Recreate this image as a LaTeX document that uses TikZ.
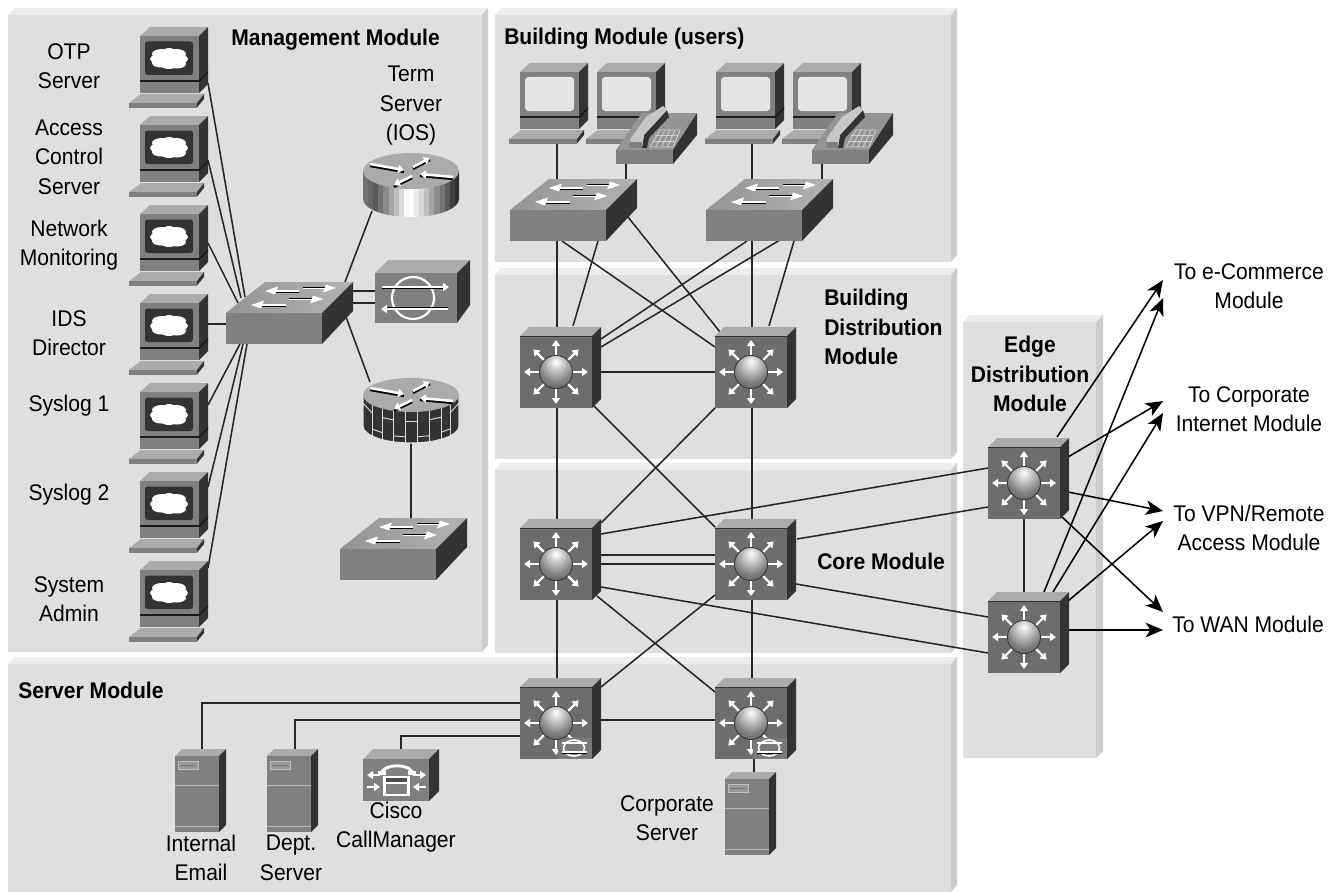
\documentclass[tikz,border=0pt]{standalone}
\usepackage{fontspec}
\setmainfont[FakeStretch=0.93]{Liberation Sans}
\usetikzlibrary{calc,arrows.meta}
\definecolor{gtop}{HTML}{ABABAB}
\definecolor{gfront}{HTML}{808080}
\definecolor{gside}{HTML}{333333}
\definecolor{lfront}{HTML}{6D6D6D}
\definecolor{ptop}{HTML}{EDEDED}
\definecolor{pfront}{HTML}{DFDFDF}
\definecolor{pside}{HTML}{CDCDCD}
\pgfdeclareradialshading{ballsh}{\pgfpoint{0bp}{16bp}}{rgb(0bp)=(1,1,1);rgb(8bp)=(.85,.85,.85);rgb(26bp)=(.5,.5,.5);rgb(50bp)=(.25,.25,.25);rgb(80bp)=(.12,.12,.12)}
\tikzset{
  conn/.style={draw=black!85,line width=1.15pt},
  outarrow/.style={draw=black,line width=1.15pt,-{Stealth[length=13pt,width=11pt,inset=3.5pt]}},
  devbox/.style={inner sep=0pt,outer sep=0pt,anchor=north west,draw=none,fill=none},
  lab/.style={align=center,font=\fontsize{17}{22.1}\selectfont,inner sep=0pt},
  blab/.style={lab,font=\fontsize{17}{22.1}\selectfont\bfseries},
  tipw/.style={-{Triangle[length=4.5pt,width=6pt,fill=white]}},
}
% panel: x0, y0 front top, x1, y1 bottom, bevel
\newcommand\panelbox[5]{%
  \fill[pfront] (#1,#2) rectangle (#3,#4);
  \fill[ptop] (#1,#2) -- (#1+#5,#2-7) -- (#3+#5,#2-7) -- (#3,#2) -- cycle;
  \fill[pside] (#3,#2) -- (#3+#5,#2-7) -- (#3+#5,#4-7) -- (#3,#4) -- cycle;
}
% device declaration: name, origin x,y, box offset x,y, box w,h
\newcommand\dev[7]{%
  \coordinate (#1-o) at (#2,#3);
  \node[devbox,minimum width=#6*0.75pt,minimum height=#7*0.75pt] (#1) at (#2+#4,#3+#5) {};
}
\newcommand\lnk[6]{\draw[conn] ($(#1-o)+(#2,#3)$) -- ($(#4-o)+(#5,#6)$);}
\newcommand\cloudshape{%
  \fill[white] (29,23) ellipse [x radius=19,y radius=6.5];
  \fill[white] (22,18) ellipse [x radius=10,y radius=5];
  \fill[white] (36,18) ellipse [x radius=10,y radius=5];
  \fill[white] (21,27) ellipse [x radius=9,y radius=4.5];
  \fill[white] (37,28) ellipse [x radius=9,y radius=4.5];
  \fill[white] (29,17) ellipse [x radius=7,y radius=5];
  \fill[white] (29,29) ellipse [x radius=8,y radius=4];
}
\newcommand\pcbody{%
  \fill[gtop] (0,0) -- (10,-9) -- (68,-9) -- (59,0) -- cycle;
  \fill[gfront] (0,0) rectangle (59,44);
  \fill[gside] (59,0) -- (68,-9) -- (68,36) -- (59,45) -- cycle;
  \fill[gfront] (0,45) rectangle (59,57);
  \fill[gside] (59,45) -- (68,36) -- (68,48) -- (59,57) -- cycle;
  \fill[black!90] (0,44) rectangle (59,46);
  \fill[black!90] (59,44) -- (68,35) -- (68,37) -- (59,46) -- cycle;
  \fill[gtop] (1,58) -- (64,58) -- (57,67) -- (-11,67) -- cycle;
  \fill[gfront] (-11,67) rectangle (57,71.5);
  \fill[gside] (57,67) -- (64,58) -- (64,63) -- (57,71.5) -- cycle;
}
\newcommand\pcdark[1]{\begin{scope}[shift={(#1-o)}]
  \pcbody
  \fill[gside,rounded corners=2pt] (5,5.5) rectangle (53,39);
  \cloudshape
\end{scope}}
\newcommand\pclight[1]{\begin{scope}[shift={(#1-o)}]
  \pcbody
  \fill[black!10,rounded corners=2.5pt] (5,5) rectangle (54,39);
\end{scope}}
\newcommand\phoneic[1]{\begin{scope}[shift={(#1-o)}]
  \fill[black!42] (0,0) -- (26,-37) -- (81,-37) -- (57,0) -- cycle;
  \fill[gfront] (0,0) rectangle (57,14);
  \fill[gside] (57,0) -- (81,-37) -- (81,-15) -- (57,14) -- cycle;
  \fill[gside] (26,-2) -- (28,-15) -- (51,-40) -- (53,-33) -- (33,-12) -- (31,-2) -- cycle;
  \fill[black!22] (15,-12) -- (30,-33) -- (47,-44) -- (51,-40) -- (28,-15) -- (26,-2) -- (14,-2) -- cycle;
  \fill[gfront] (14,-2) -- (26,-2) -- (26,-8) -- (14,-8) -- cycle;
  \draw[black!18,line width=.6pt] (34,-3) -- (57,-3) -- (64,-20) -- (44,-20) -- cycle;
  \draw[black!18,line width=.6pt] (36.5,-8.7) -- (59.3,-8.7) (39.2,-14.3) -- (61.7,-14.3);
  \draw[black!18,line width=.6pt] (39.7,-3) -- (49,-20) (45.5,-3) -- (54,-20) (51.2,-3) -- (59,-20);
\end{scope}}
\newcommand\wsl[3]{%
  \fill[white] (#1+10,#2-1.2) rectangle (#3,#2+.5);
  \draw[black,line width=.4pt] (#1+10,#2+.9) -- (#3,#2+.9);
  \fill[white] (#1,#2) -- (#1+13,#2-4.5) -- (#1+10,#2+3.5) -- cycle;
}
\newcommand\wsr[3]{%
  \fill[white] (#1-10,#2+1.2) rectangle (#3,#2-.5);
  \draw[black,line width=.4pt] (#1-10,#2-.9) -- (#3,#2-.9);
  \fill[white] (#1,#2) -- (#1-13,#2+4.5) -- (#1-10,#2-3.5) -- cycle;
}
\newcommand\wgswitch[1]{\begin{scope}[shift={(#1-o)}]
  \shade[left color=black!42,right color=black!30] (0,0) -- (39,-31) -- (127,-31) -- (96,0) -- cycle;
  \fill[gfront] (0,0) rectangle (96,31);
  \fill[gside] (96,0) -- (127,-31) -- (127,-2) -- (96,31) -- cycle;
  \wsl{39}{-22}{73}
  \wsr{110}{-25}{77}
  \wsl{25}{-8}{60}
  \wsr{97}{-14}{63}
\end{scope}}
\newcommand\lthreebody{%
  \fill[gtop] (0,0) -- (9,-9) -- (81,-9) -- (72,0) -- cycle;
  \fill[lfront] (0,0) rectangle (72,72);
  \fill[gside] (72,0) -- (81,-9) -- (81,63) -- (72,72) -- cycle;
  \draw[gside,line width=.75pt] (0,0) -- (72,0);
  \foreach \a in {0,45,...,315} {
    \draw[white,line width=1.6pt,tipw,draw=white] ({36+17*cos(\a)},{36+17*sin(\a)}) -- ({36+32*cos(\a)},{36+32*sin(\a)});
  }
}
\newcommand\lthreeball{%
  \shade[shading=ballsh] (36,36) circle [radius=16.5];
  \draw[black!80,line width=.6pt] (36,36) circle [radius=16.5];
}
\newcommand\lthree[1]{\begin{scope}[shift={(#1-o)}]
  \lthreebody
  \lthreeball
\end{scope}}
\newcommand\lthreering[1]{\begin{scope}[shift={(#1-o)}]
  \lthreebody
  \fill[black!52] (38,51) rectangle (72,71.5);
  \lthreeball
  \draw[white,line width=1.2pt] (54,61) ellipse [x radius=10.5,y radius=8];
  \draw[black,line width=.4pt] (42,55) -- (67,55) (42,66) -- (67,66);
  \draw[white,line width=.9pt] (42,56) -- (67,56) (42,65) -- (67,65);
\end{scope}}
\newcommand\rarrows{%
  \foreach \xa/\ya/\xb/\yb in {-41/-7/-7/-1,2/-4/19/-13,42/6/9/3,1/5/-17/14} {
    \draw[black,line width=2pt] (\xa,\ya+1.8) -- (\xb,\yb+1.8);
    \draw[white,line width=1.9pt,tipw] (\xa,\ya) -- (\xb,\yb);
  }
}
\newcommand\routerT[1]{\begin{scope}[shift={(#1-o)}]
  \begin{scope}
    \clip (-48,0) -- (-48,28) .. controls (-48,38) and (-26.5,46) .. (0,46) .. controls (26.5,46) and (48,38) .. (48,28) -- (48,0) -- cycle;
    \foreach \i/\g in {0/55,1/60,2/65,3/55,4/45,5/35,6/25,7/15,8/3,9/0,10/8,11/15,12/25,13/35,14/45,15/55,16/65,17/75,18/82} {
      \fill[black!\g] ({-48+5.1*\i},-3) rectangle ({-48+5.1*(\i+1)+.3},50);
    }
  \end{scope}
  \fill[gtop] (0,0) ellipse [x radius=48,y radius=18];
  \rarrows
\end{scope}}
\newcommand\routerF[1]{\begin{scope}[shift={(#1-o)}]
  \fill[gside] (-48,0) -- (-48,31) .. controls (-48,40.4) and (-26.5,48) .. (0,48) .. controls (26.5,48) and (48,40.4) .. (48,31) -- (48,0) -- cycle;
  \foreach \xa in {-39,-29,-18,-6,6,18,30,39} {
    \draw[black!15,line width=.7pt] (\xa,{17*sqrt(1-(\xa/48)^2)}) -- (\xa,{31+17*sqrt(1-(\xa/48)^2)});
  }
  \foreach \xa/\xb/\t in {-48/-39/8,-39/-29/24,-29/-18/9,-18/-6/25,-6/6/10,6/18/25,18/30/9,30/39/24,39/48/8} {
    \draw[black!15,line width=.7pt] (\xa,{\t+17*sqrt(1-(\xa/48)^2)}) -- (\xb,{\t+17*sqrt(1-(\xb/48)^2)});
  }
  \draw[black!12,line width=.8pt] (-48,0) -- (-48,31) .. controls (-48,40.4) and (-26.5,48) .. (0,48) .. controls (26.5,48) and (48,40.4) .. (48,31) -- (48,0);
  \fill[gtop] (0,0) ellipse [x radius=48,y radius=17];
  \rarrows
\end{scope}}
\newcommand\idsbox[1]{\begin{scope}[shift={(#1-o)}]
  \fill[gtop] (0,0) -- (13,-13) -- (95,-13) -- (82,0) -- cycle;
  \fill[gfront] (0,0) rectangle (82,50);
  \fill[gside] (82,0) -- (95,-13) -- (95,32) -- (82,50) -- cycle;
  \draw[white,line width=1.6pt] (38,25) circle [radius=21];
  \draw[black,line width=.7pt] (7,15.6) -- (70,15.6);
  \draw[white,line width=1.5pt,tipw] (7,14) -- (74,14);
  \draw[black,line width=.7pt] (10,34.4) -- (73,34.4);
  \draw[white,line width=1.5pt,tipw] (73,36) -- (6,36);
\end{scope}}
\newcommand\serverbox[1]{\begin{scope}[shift={(#1-o)}]
  \fill[gtop] (0,0) -- (7,-7) -- (51,-7) -- (44,0) -- cycle;
  \fill[gfront] (0,0) rectangle (44,76);
  \fill[gside] (44,0) -- (51,-7) -- (51,69) -- (44,76) -- cycle;
  \fill[black!40] (3,5) rectangle (23,13);
  \draw[black!25,line width=.6pt] (3,5) rectangle (23,13);
  \draw[black!55,line width=.4pt] (6,9) -- (20,9);
  \draw[black!28,line width=.7pt] (0,29) -- (44,29) (0,70) -- (44,70);
\end{scope}}
\newcommand\callmgr[1]{\begin{scope}[shift={(#1-o)}]
  \fill[gtop] (0,0) -- (10,-10) -- (76,-10) -- (66,0) -- cycle;
  \fill[gfront] (0,0) rectangle (66,42);
  \fill[gside] (66,0) -- (76,-10) -- (76,32) -- (66,42) -- cycle;
  \draw[white,line width=2.2pt] (18,15) .. controls (20,4) and (48,4) .. (50,15);
  \fill[white] (15,12) rectangle (23,16) (45,12) rectangle (53,16);
  \fill[white] (20,17) rectangle (47,37);
  \fill[gfront!60!black] (23,18.5) rectangle (44,23);
  \fill[gfront] (23,25) rectangle (44,35);
  \draw[white,line width=1.6pt,tipw] (17,16) -- (4,16);
  \draw[white,line width=1.6pt,tipw] (50,16) -- (63,16);
  \draw[white,line width=1.6pt,tipw] (4,28) -- (17,28);
  \draw[white,line width=1.6pt,tipw] (63,28) -- (50,28);
\end{scope}}
\begin{document}
\begin{tikzpicture}[x=0.75pt,y=-0.75pt]
\useasboundingbox (0,0) rectangle (1331,892);
\fill[white] (0,0) rectangle (1331,892);
% module panels
\panelbox{8}{15}{482}{652}{6}
\panelbox{495}{15}{951}{262}{6}
\panelbox{495}{275}{951}{459}{6}
\panelbox{495}{470}{951}{653}{6}
\panelbox{8}{664}{951}{892}{6}
\panelbox{963}{322}{1096}{758}{7}
% devices (invisible anchors)
\dev{m1}{140}{36}{-11}{-9}{79}{81}
\dev{m2}{140}{125}{-11}{-9}{79}{81}
\dev{m3}{140}{214}{-11}{-9}{79}{81}
\dev{m4}{140}{303}{-11}{-9}{79}{81}
\dev{m5}{140}{392}{-11}{-9}{79}{81}
\dev{m6}{140}{481}{-11}{-9}{79}{81}
\dev{m7}{140}{570}{-11}{-9}{79}{81}
\dev{msw}{226}{313}{0}{-31}{127}{62}
\dev{term}{411}{171}{-48}{-18}{96}{64}
\dev{ids}{375}{273}{0}{-13}{95}{63}
\dev{fw}{411}{395}{-48}{-17}{96}{65}
\dev{lsw}{340}{549}{0}{-31}{127}{62}
\dev{u1}{520}{72}{-11}{-9}{79}{81}
\dev{u2}{597}{72}{-11}{-9}{79}{81}
\dev{u3}{716}{72}{-11}{-9}{79}{81}
\dev{u4}{793}{72}{-11}{-9}{79}{81}
\dev{p1}{616}{150}{0}{-44}{81}{58}
\dev{p2}{812}{150}{0}{-44}{81}{58}
\dev{sa}{510}{210}{0}{-31}{127}{62}
\dev{sb}{706}{210}{0}{-31}{127}{62}
\dev{bd1}{520}{336}{0}{-9}{81}{81}
\dev{bd2}{715}{336}{0}{-9}{81}{81}
\dev{c1}{520}{528}{0}{-9}{81}{81}
\dev{c2}{715}{528}{0}{-9}{81}{81}
\dev{s1}{520}{687}{0}{-9}{81}{81}
\dev{s2}{715}{687}{0}{-9}{81}{81}
\dev{e1}{988}{447}{0}{-9}{81}{81}
\dev{e2}{988}{601}{0}{-9}{81}{81}
\dev{inte}{175}{756}{0}{-7}{51}{83}
\dev{dept}{267}{756}{0}{-7}{51}{83}
\dev{corp}{725}{779}{0}{-7}{51}{83}
\dev{cm}{363}{759}{0}{-10}{76}{52}
% free ends of the outgoing arrows
\coordinate (t1) at (1163,280);
\coordinate (t2) at (1163,298);
\coordinate (t3) at (1163,401);
\coordinate (t4) at (1163,413);
\coordinate (t5) at (1163,511);
\coordinate (t6) at (1163,521);
\coordinate (t7) at (1163,612);
\coordinate (t8) at (1163,630);
% connectors: management module
\lnk{m1}{68}{47}{msw}{19}{-16}
\lnk{m2}{68}{35}{msw}{15}{-15}
\lnk{m3}{68}{29}{msw}{12}{-10}
\lnk{m4}{68}{21}{msw}{0}{11}
\lnk{m5}{68}{13}{msw}{14}{31}
\lnk{m6}{68}{6}{msw}{17}{31}
\lnk{m7}{68}{-2}{msw}{21}{31}
\lnk{msw}{119}{-31}{term}{-39}{40}
\lnk{msw}{126}{-22}{ids}{0}{18}
\lnk{msw}{126}{-10}{ids}{0}{30}
\lnk{msw}{120}{4}{fw}{-41}{-13}
\lnk{fw}{0}{48}{lsw}{71}{-31}
% building
\lnk{u1}{37}{71}{sa}{47}{-31}
\lnk{p1}{10}{14}{sa}{116}{-31}
\lnk{u3}{36}{71}{sb}{46}{-31}
\lnk{p2}{10}{14}{sb}{116}{-31}
\lnk{sa}{47}{31}{bd1}{37}{-9}
\lnk{sa}{88}{31}{bd1}{53}{-10}
\lnk{sa}{52}{31}{bd2}{0}{11}
\lnk{sa}{118}{7}{bd2}{5}{-4}
\lnk{sb}{46}{31}{bd2}{37}{-9}
\lnk{sb}{88}{31}{bd2}{54}{-10}
\lnk{sb}{41}{31}{bd1}{81}{3}
\lnk{sb}{84}{24}{bd1}{81}{11}
\lnk{bd1}{81}{36}{bd2}{0}{36}
\lnk{bd1}{37}{72}{c1}{37}{-9}
\lnk{bd2}{37}{72}{c2}{37}{-9}
\lnk{bd1}{74}{70}{c2}{0}{-1}
\lnk{bd2}{0}{72}{c1}{81}{-5}
% core
\lnk{c1}{81}{27}{c2}{0}{27}
\lnk{c1}{81}{36}{c2}{0}{36}
\lnk{c1}{81}{6}{e1}{0}{21}
\lnk{c2}{82}{11}{e1}{0}{60}
\lnk{c1}{81}{59}{e2}{0}{52}
\lnk{c2}{81}{56}{e2}{0}{16}
\lnk{c1}{77}{68}{s2}{0}{5}
\lnk{c2}{0}{67}{s1}{81}{0}
\lnk{c1}{37}{72}{s1}{37}{-9}
\lnk{c2}{37}{72}{s2}{37}{-9}
% server
\lnk{s1}{81}{33}{s2}{0}{33}
\lnk{s2}{39}{71}{corp}{29}{-6}
\draw[conn] ($(inte-o)+(27,-7)$) |- ($(s1-o)+(0,16)$);
\draw[conn] ($(dept-o)+(28,-7)$) |- ($(s1-o)+(0,33)$);
\draw[conn] ($(cm-o)+(38,-10)$) |- ($(s1-o)+(0,49)$);
% edge
\lnk{e1}{36}{72}{e2}{36}{-9}
\draw[outarrow] ($(e1-o)+(69,-10)$) -- (t1);
\draw[outarrow] ($(e2-o)+(56,-9)$) -- (t2);
\draw[outarrow] ($(e1-o)+(80,10)$) -- (t3);
\draw[outarrow] ($(e2-o)+(65,-9)$) -- (t4);
\draw[outarrow] ($(e1-o)+(80,45)$) -- (t5);
\draw[outarrow] ($(e2-o)+(80,0)$) -- (t6);
\draw[outarrow] ($(e1-o)+(73,69)$) -- (t7);
\draw[outarrow] ($(e2-o)+(81,29)$) -- (t8);
% device drawings
\pcdark{m1}\pcdark{m2}\pcdark{m3}\pcdark{m4}\pcdark{m5}\pcdark{m6}\pcdark{m7}
\wgswitch{msw}\wgswitch{lsw}\wgswitch{sa}\wgswitch{sb}
\routerT{term}\routerF{fw}\idsbox{ids}
\pclight{u1}\pclight{u2}\pclight{u3}\pclight{u4}
\phoneic{p1}\phoneic{p2}
\lthree{bd1}\lthree{bd2}\lthree{c1}\lthree{c2}\lthree{e1}\lthree{e2}
\lthreering{s1}\lthreering{s2}
\serverbox{inte}\serverbox{dept}\serverbox{corp}
\callmgr{cm}
% labels
\node[blab,anchor=west] (tMgmt) at (231,40) {Management Module};
\node[blab,anchor=west] (tBldg) at (504,39) {Building Module (users)};
\node[blab,anchor=north west,align=left] (tBD) at (824,289) {Building\\Distribution\\Module};
\node[blab,anchor=west] (tCore) at (817,561) {Core Module};
\node[blab,anchor=west] (tSrv) at (18,690) {Server Module};
\node[blab] (tEdge) at (1030,374) {Edge\\Distribution\\Module};
\node[lab] (l1) at (69,66) {OTP\\Server};
\node[lab] (l2) at (69,157) {Access\\Control\\Server};
\node[lab] (l3) at (69,245) {Network\\Monitoring};
\node[lab] (l4) at (69,333) {IDS\\Director};
\node[lab] (l5) at (69,406) {Syslog 1};
\node[lab] (l6) at (69,495) {Syslog 2};
\node[lab] (l7) at (69,599) {System\\Admin};
\node[lab] (l8) at (411,106) {Term\\Server\\(IOS)};
\node[lab] (l9) at (201,858) {Internal\\Email};
\node[lab] (l10) at (291,858) {Dept.\\Server};
\node[lab] (l11) at (396,827) {Cisco\\CallManager};
\node[lab] (l12) at (667,818) {Corporate\\Server};
\node[lab] (r1) at (1249,286) {To e-Commerce\\Module};
\node[lab] (r2) at (1249,409) {To Corporate\\Internet Module};
\node[lab] (r3) at (1249,528) {To VPN/Remote\\Access Module};
\node[lab,anchor=west] (r4) at (1172,624) {To WAN Module};
\end{tikzpicture}
\end{document}
